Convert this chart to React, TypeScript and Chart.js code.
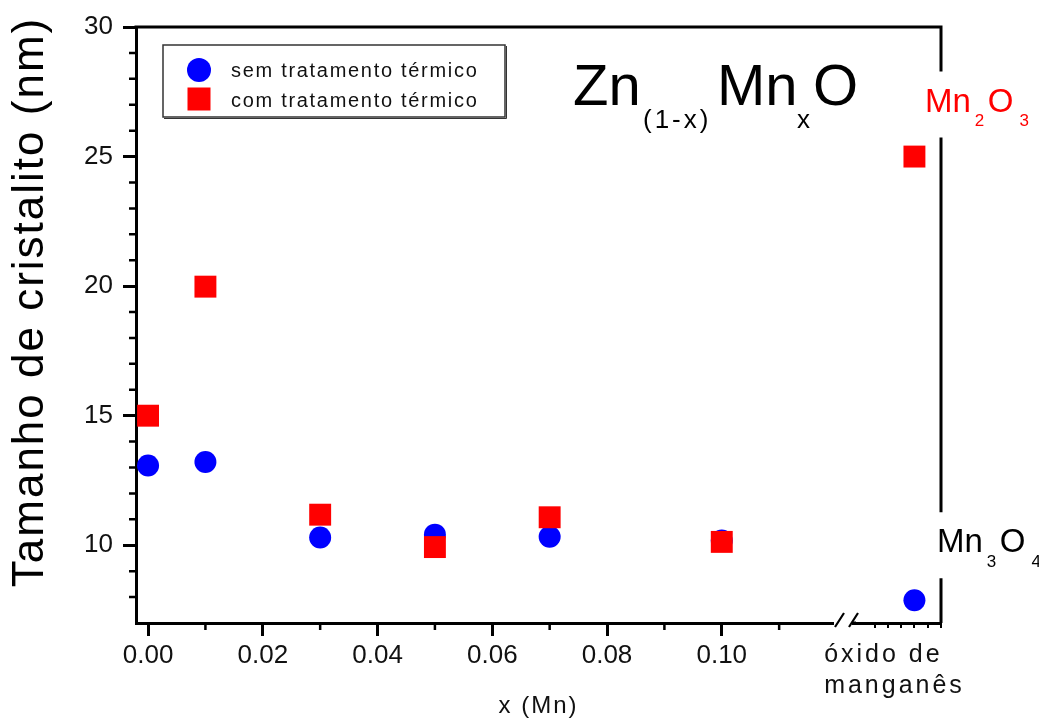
import React, { useEffect, useRef } from "react";
import { Chart, registerables } from "chart.js";

Chart.register(...registerables);

// ---------- data ----------
const xMn = [0, 0.01, 0.03, 0.05, 0.07, 0.1];
const semTratamento = [13.08, 13.21, 10.3, 10.41, 10.33, 10.18];
const comTratamento = [15.0, 19.98, 11.18, 9.93, 11.08, 10.13];
const oxideSemTratamento = 7.88; // Mn3O4
const oxideComTratamento = 25.0; // Mn2O3
const oxideSlot = 5; // slot of the oxide sample on the broken-axis segment
const seriesLabels = ["sem tratamento térmico", "com tratamento térmico"];
const oxideLabel = ["óxido de", "manganês"];
const xTitle = "x (Mn)";
const yTitle = "Tamanho de cristalito (nm)";
const xTickValues = [0, 0.02, 0.04, 0.06, 0.08, 0.1];
const xMinorTickValues = [0.01, 0.03, 0.05, 0.07, 0.09, 0.11];
const yTickValues = [10, 15, 20, 25, 30];
const yMinorTickValues = [8, 9, 11, 12, 13, 14, 16, 17, 18, 19, 21, 22, 23, 24, 26, 27, 28, 29];
const oxideTickValues = [2, 3, 4, 5, 6, 7];

const FONT = "'Liberation Sans', Arial, Helvetica, sans-serif";
const BLUE = "#0000ff";
const RED = "#ff0000";

function drawChem(ctx: any, parts: any[], x: number, base: number, big: number, small: number, drop: number, color: string) {
  ctx.fillStyle = color;
  ctx.textAlign = "left";
  ctx.textBaseline = "alphabetic";
  let cx = x;
  for (const p of parts) {
    ctx.font = `${p.sub ? small : big}px ${FONT}`;
    ctx.fillText(p.t, cx, p.sub ? base + drop : base);
    cx += ctx.measureText(p.t).width + (p.gap || 0);
  }
}

const decorPlugin = {
  id: "decor",
  afterDraw(chart: any) {
    const ctx = chart.ctx;
    const area = chart.chartArea;
    const xs = chart.scales.x;
    const xo = chart.scales.xOx;
    const ys = chart.scales.y;
    ctx.save();
    ctx.letterSpacing = "0px";
    ctx.strokeStyle = "#000";
    ctx.lineCap = "butt";

    // minor ticks
    ctx.lineWidth = 2.5;
    ctx.beginPath();
    for (const v of yMinorTickValues) {
      const p = ys.getPixelForValue(v);
      ctx.moveTo(area.left - 7, p);
      ctx.lineTo(area.left, p);
    }
    for (const v of xMinorTickValues) {
      const p = xs.getPixelForValue(v);
      ctx.moveTo(p, area.bottom);
      ctx.lineTo(p, area.bottom + 7);
    }
    ctx.stroke();

    // frame: top and right (with gaps for labels)
    const redBase = ys.getPixelForValue(oxideComTratamento) - 45;
    const blackBase = ys.getPixelForValue(oxideSemTratamento) - 48;
    ctx.lineWidth = 3;
    ctx.beginPath();
    ctx.moveTo(area.left - 1.5, area.top);
    ctx.lineTo(area.right + 1.5, area.top);
    const segs = [
      [area.top - 1.5, redBase - 40],
      [redBase + 26, blackBase - 40],
      [blackBase + 26, area.bottom],
    ];
    for (const [a, b] of segs) {
      ctx.moveTo(area.right, a);
      ctx.lineTo(area.right, b);
    }
    ctx.stroke();

    // axis break
    const bx = xs.right;
    ctx.fillStyle = "#fff";
    ctx.fillRect(bx - 14, area.bottom - 4, 18, 12);
    ctx.lineWidth = 2.2;
    ctx.beginPath();
    ctx.moveTo(bx - 13, area.bottom + 4);
    ctx.lineTo(bx - 4, area.bottom - 10);
    ctx.moveTo(bx + 1, area.bottom + 4);
    ctx.lineTo(bx + 10, area.bottom - 10);
    ctx.stroke();
    ctx.beginPath();
    ctx.lineWidth = 3;
    ctx.moveTo(bx + 4, area.bottom);
    ctx.lineTo(bx + 8, area.bottom);
    ctx.stroke();

    // legend
    const lx = area.left + 27;
    const ly = area.top + 18;
    const lw = 342;
    const lh = 72;
    ctx.fillStyle = "#fff";
    ctx.fillRect(lx, ly, lw, lh);
    ctx.strokeStyle = "#333";
    ctx.lineWidth = 1.5;
    ctx.strokeRect(lx, ly, lw, lh);
    ctx.beginPath();
    ctx.lineWidth = 1;
    ctx.moveTo(lx + 1, ly + lh + 1.5);
    ctx.lineTo(lx + lw + 1.5, ly + lh + 1.5);
    ctx.lineTo(lx + lw + 1.5, ly + 1);
    ctx.stroke();
    ctx.fillStyle = BLUE;
    ctx.beginPath();
    ctx.arc(lx + 36, ly + 25, 12, 0, Math.PI * 2);
    ctx.fill();
    ctx.fillStyle = RED;
    ctx.fillRect(lx + 36 - 11.5, ly + 54 - 11.5, 23, 23);
    ctx.fillStyle = "#111";
    ctx.font = `20px ${FONT}`;
    ctx.letterSpacing = "1.7px";
    ctx.textAlign = "left";
    ctx.textBaseline = "alphabetic";
    ctx.fillText(seriesLabels[0], lx + 68, ly + 32);
    ctx.fillText(seriesLabels[1], lx + 68, ly + 62);

    // main title Zn(1-x)MnxO
    const tx = area.left + 437;
    const tb = area.top + 78;
    ctx.fillStyle = "#000";
    ctx.letterSpacing = "0px";
    ctx.font = `58px ${FONT}`;
    ctx.fillText("Zn", tx, tb);
    ctx.fillText("Mn", tx + 144, tb);
    ctx.fillText("O", tx + 240, tb);
    ctx.font = `26px ${FONT}`;
    ctx.letterSpacing = "3px";
    ctx.fillText("(1-x)", tx + 70, tb + 23);
    ctx.fillText("x", tx + 224, tb + 23);
    ctx.letterSpacing = "0px";

    // oxide labels
    drawChem(ctx, [{ t: "Mn", gap: 4 }, { t: "2", sub: true, gap: 3.5 }, { t: "O", gap: 6 }, { t: "3", sub: true }], area.right - 16, redBase, 33, 17, 14, RED);
    drawChem(ctx, [{ t: "Mn", gap: 4 }, { t: "3", sub: true, gap: 3.5 }, { t: "O", gap: 6 }, { t: "4", sub: true }], area.right - 4, blackBase, 33, 17, 15, "#000");

    // oxide category label
    ctx.fillStyle = "#111";
    ctx.font = `25px ${FONT}`;
    ctx.letterSpacing = "3px";
    ctx.textAlign = "left";
    const oc = (xo.left + xo.right) / 2;
    const ow = ctx.measureText(oxideLabel[1]).width;
    ctx.fillText(oxideLabel[0], oc - ow / 2, area.bottom + 39);
    ctx.fillText(oxideLabel[1], oc - ow / 2, area.bottom + 70);

    // x title
    ctx.font = `24px ${FONT}`;
    ctx.letterSpacing = "2px";
    ctx.textAlign = "center";
    ctx.fillText(xTitle, (area.left + area.right) / 2, area.bottom + 90);

    // y title
    ctx.save();
    ctx.translate(area.left - 93, (area.top + area.bottom) / 2 - 23);
    ctx.rotate(-Math.PI / 2);
    ctx.font = `44px ${FONT}`;
    ctx.letterSpacing = "2px";
    ctx.textAlign = "center";
    ctx.fillStyle = "#000";
    ctx.fillText(yTitle, 0, 0);
    ctx.restore();

    ctx.restore();
  },
};

const axisGrid = (len: number, w: number) => ({
  display: true,
  drawOnChartArea: false,
  drawTicks: true,
  tickLength: len,
  lineWidth: w,
  color: "#000",
});
const axisBorder = { display: true, width: 3, color: "#000" };

export default function App() {
  const ref = useRef<HTMLCanvasElement>(null);
  useEffect(() => {
    if (!ref.current) return;
    const mk = (xs: number[], ys: number[]) => xs.map((x, i) => ({ x, y: ys[i] }));
    const chart = new Chart(ref.current, {
      type: "scatter",
      data: {
        datasets: [
          {
            label: seriesLabels[1],
            data: mk(xMn, comTratamento),
            xAxisID: "x",
            yAxisID: "y",
            pointStyle: "rect",
            pointRadius: 15.5,
            backgroundColor: RED,
            borderWidth: 0,
            order: 0,
            clip: false,
          },
          {
            label: seriesLabels[0],
            data: mk(xMn, semTratamento),
            xAxisID: "x",
            yAxisID: "y",
            pointStyle: "circle",
            pointRadius: 11,
            backgroundColor: BLUE,
            borderWidth: 0,
            order: 1,
            clip: false,
          },
          {
            label: seriesLabels[1] + " (Mn2O3)",
            data: [{ x: oxideSlot, y: oxideComTratamento }],
            xAxisID: "xOx",
            yAxisID: "y",
            pointStyle: "rect",
            pointRadius: 15.5,
            backgroundColor: RED,
            borderWidth: 0,
            order: 0,
            clip: false,
          },
          {
            label: seriesLabels[0] + " (Mn3O4)",
            data: [{ x: oxideSlot, y: oxideSemTratamento }],
            xAxisID: "xOx",
            yAxisID: "y",
            pointStyle: "circle",
            pointRadius: 11,
            backgroundColor: BLUE,
            borderWidth: 0,
            order: 1,
            clip: false,
          },
        ],
      },
      options: {
        animation: false,
        responsive: true,
        maintainAspectRatio: false,
        events: [],
        layout: { padding: { top: 27, right: 98, bottom: 0, left: 0 } },
        plugins: { legend: { display: false }, tooltip: { enabled: false }, title: { display: false } },
        scales: {
          x: {
            type: "linear",
            position: "bottom",
            stack: "xb",
            stackWeight: 712,
            min: -0.0021,
            max: 0.122,
            afterBuildTicks: (s: any) => {
              s.ticks = xTickValues.map((v) => ({ value: v }));
            },
            afterFit: (s: any) => {
              s.height = 97;
            },
            grid: axisGrid(13, 3),
            border: axisBorder,
            ticks: {
              font: { family: FONT, size: 26 },
              color: "#111",
              padding: 4,
              maxRotation: 0,
              autoSkip: false,
              callback: (v: any) => Number(v).toFixed(2),
            },
          },
          xOx: {
            type: "linear",
            position: "bottom",
            stack: "xb",
            stackWeight: 93,
            min: 0,
            max: 7,
            afterBuildTicks: (s: any) => {
              s.ticks = oxideTickValues.map((v) => ({ value: v }));
            },
            afterFit: (s: any) => {
              s.height = 97;
            },
            grid: axisGrid(5, 2),
            border: axisBorder,
            ticks: { callback: () => "", font: { size: 10 } },
          },
          y: {
            type: "linear",
            position: "left",
            min: 7,
            max: 30,
            afterBuildTicks: (s: any) => {
              s.ticks = yTickValues.map((v) => ({ value: v }));
            },
            afterFit: (s: any) => {
              s.width = 136;
            },
            grid: axisGrid(13, 3),
            border: axisBorder,
            ticks: {
              font: { family: FONT, size: 26 },
              color: "#111",
              padding: 10,
              callback: (v: any) => String(v),
            },
          },
        },
      },
      plugins: [decorPlugin],
    } as any);
    return () => chart.destroy();
  }, []);
  return (
    <div style={{ position: "fixed", left: 0, top: 0, width: 1039, height: 720, background: "#fff" }}>
      <canvas ref={ref} />
    </div>
  );
}
